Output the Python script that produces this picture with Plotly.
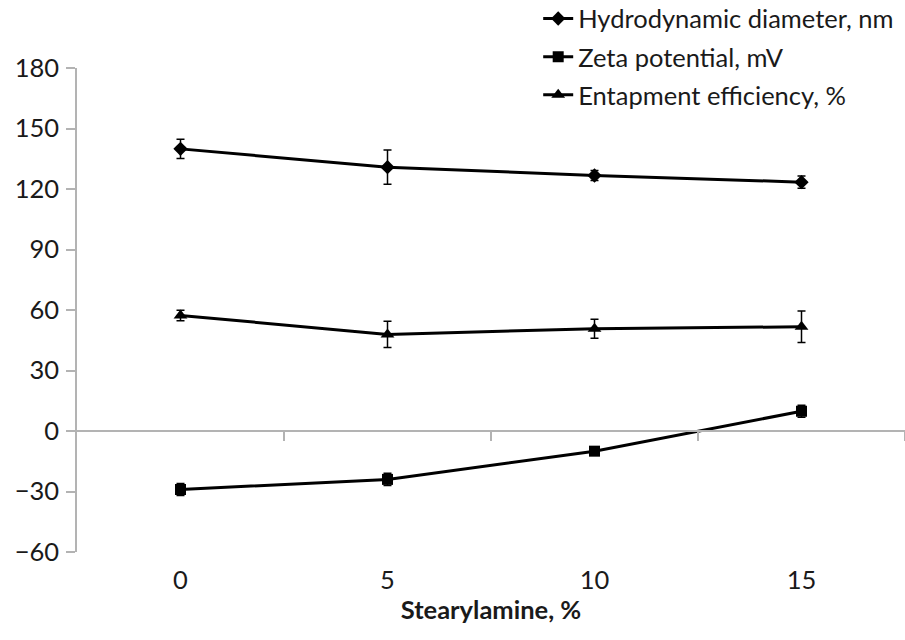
import plotly.graph_objects as go

stearylamine = [0, 5, 10, 15]
tick_labels = ["0", "5", "10", "15"]

hydro = [139.9, 130.8, 126.7, 123.4]
hydro_err = [4.8, 8.5, 2.5, 3.0]

zeta = [-29.0, -24.0, -10.0, 9.8]
zeta_err = [3.0, 3.0, 2.0, 3.0]

entrap = [57.3, 47.9, 50.7, 51.7]
entrap_err = [2.6, 6.5, 4.7, 7.8]

names = ["Hydrodynamic diameter, nm", "Zeta potential, mV", "Entapment efficiency, %"]

FONT = "Lato"
FS = 25.5
GRAY = "#b3b3b3"
TXT = "#1a1a1a"

fig = go.Figure()

series = [
    (hydro, hydro_err, "diamond", 11),
    (zeta, zeta_err, "square", 11),
    (entrap, entrap_err, "triangle-up", 12),
]
for i, (vals, errs, sym, size) in enumerate(series):
    fig.add_trace(go.Scatter(
        x=stearylamine, y=vals, name=names[i], mode="lines+markers",
        legendgroup=f"g{i}",
        line=dict(color="black", width=3),
        marker=dict(symbol=sym, size=size, color="black"),
        error_y=dict(type="data", array=errs, visible=True, color="black",
                     thickness=1.5, width=4),
    ))

# invisible trace for the zero-level category axis
fig.add_trace(go.Scatter(x=[], y=[], xaxis="x2", showlegend=False, hoverinfo="skip"))

fig.update_layout(
    width=905, height=640,
    margin=dict(l=77, r=0, t=68, b=88, autoexpand=False),
    paper_bgcolor="white", plot_bgcolor="white",
    font=dict(family=FONT, size=FS, color=TXT),
    showlegend=True,
    legend=dict(x=0.557, y=1.150, xanchor="left", yanchor="top",
                font=dict(family=FONT, size=FS, color=TXT),
                traceorder="grouped", tracegroupgap=2,
                bgcolor="rgba(0,0,0,0)", itemwidth=30),
    xaxis=dict(range=[-2.5, 17.5], tickmode="array", tickvals=stearylamine,
               ticktext=tick_labels, showline=False, showgrid=False,
               zeroline=False, ticks="", ticklabelstandoff=10,
               tickfont=dict(family=FONT, size=FS, color=TXT),
               title=dict(text="<b>Stearylamine, %</b>", standoff=8,
                          font=dict(family=FONT, size=FS, color=TXT))),
    xaxis2=dict(overlaying="x", matches="x", anchor="free", position=0.25,
                side="bottom", tickmode="array", tickvals=[2.5, 7.5, 12.5, 17.5],
                showticklabels=False, ticks="outside", ticklen=9, tickcolor=GRAY,
                tickwidth=1.5, showline=True, linecolor=GRAY, linewidth=1.5,
                showgrid=False, zeroline=False),
    yaxis=dict(range=[-60, 180], tickmode="linear", tick0=-60, dtick=30,
               showline=True, linecolor=GRAY, linewidth=1.5, ticks="outside",
               ticklen=9, tickcolor=GRAY, tickwidth=1.5, showgrid=False,
               zeroline=False, ticklabelstandoff=2,
               tickfont=dict(family=FONT, size=FS, color=TXT)),
)

fig.write_html("out.html")
